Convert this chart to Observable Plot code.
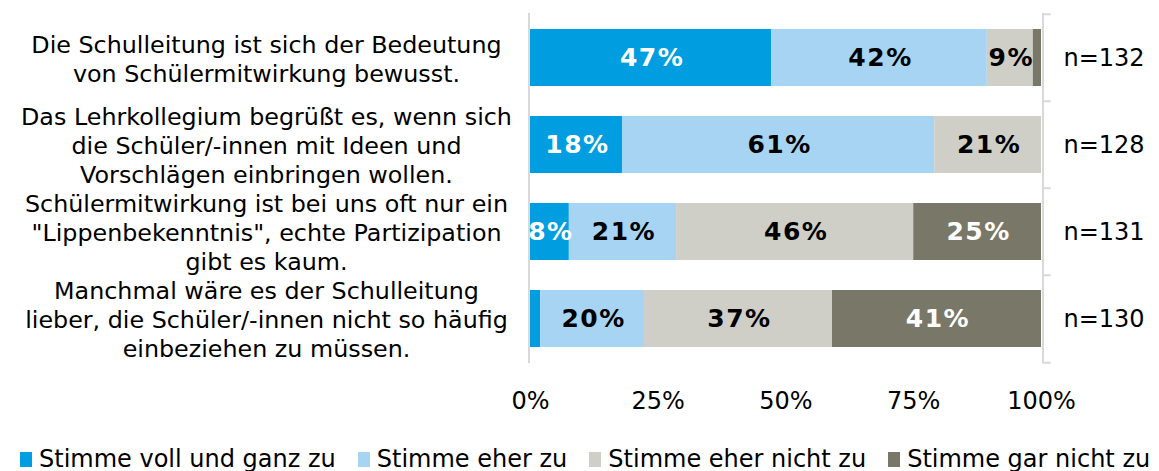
<!DOCTYPE html>
<html>
<head>
<meta charset="utf-8">
<script src="https://cdn.jsdelivr.net/npm/d3@7"></script>
<script src="https://cdn.jsdelivr.net/npm/@observablehq/plot@0.6"></script>
<style>
  html, body { margin: 0; padding: 0; background: #fff; }
  #chart { width: 1159px; }
  .legend { font-family: "DejaVu Sans", Verdana, sans-serif; font-size: 24px; line-height: 24px;
            padding-top: 7px; padding-left: 20px; white-space: nowrap; color: #000; }
  .legend span.item { display: inline-block; margin-right: 22px; }
  .legend span.sw { display: inline-block; width: 12px; height: 15px; margin-right: 7px; }
</style>
</head>
<body>
<div id="chart"></div>
<script>
const questions = [
  "Die Schulleitung ist sich der Bedeutung\nvon Schülermitwirkung bewusst.",
  "Das Lehrkollegium begrüßt es, wenn sich\ndie Schüler/-innen mit Ideen und\nVorschlägen einbringen wollen.",
  "Schülermitwirkung ist bei uns oft nur ein\n\"Lippenbekenntnis\", echte Partizipation\ngibt es kaum.",
  "Manchmal wäre es der Schulleitung\nlieber, die Schüler/-innen nicht so häufig\neinbeziehen zu müssen."
];
const categories = ["Stimme voll und ganz zu", "Stimme eher zu", "Stimme eher nicht zu", "Stimme gar nicht zu"];
const colors = ["#009EE0", "#A8D4F3", "#CFCFC7", "#797767"];
const vollUndGanz = [47.2, 18.0, 7.6, 2.0];
const eherZu = [42.2, 61.1, 21.0, 20.3];
const eherNicht = [9.0, 20.9, 46.4, 36.8];
const garNicht = [1.6, 0, 25.0, 40.9];
const nLabels = ["n=132", "n=128", "n=131", "n=130"];
const xTicks = [0, 25, 50, 75, 100];

const series = [vollUndGanz, eherZu, eherNicht, garNicht];
const rows = questions.flatMap((q, i) => categories.map((c, j) => ({question: q, category: c, value: series[j][i], idx: j})));
const nRows = questions.map((q, i) => ({question: q, n: nLabels[i]}));
const lbl = d => d.value >= 3 ? Math.round(d.value) + "%" : "";
const darkCat = d => d.idx === 0 || d.idx === 3;

const step = (440 - 13 - 77) / questions.length;

const plot = Plot.plot({
  width: 1159,
  height: 440,
  marginLeft: 530,
  marginRight: 118,
  marginTop: 13,
  marginBottom: 77,
  style: {fontFamily: "DejaVu Sans, Verdana, sans-serif", fontSize: "24px", color: "#000", background: "#fff"},
  x: {domain: [0, 100], label: null},
  y: {domain: questions, paddingInner: 0.34, paddingOuter: 0.17, axis: null},
  color: {domain: categories, range: colors},
  marks: [
    Plot.barX(rows, Plot.stackX({x: "value", y: "question", fill: "category", z: "category"})),
    Plot.text(rows, Plot.stackX({x: "value", y: "question", z: "category",
      text: d => darkCat(d) ? lbl(d) : "", fill: "white", fontWeight: "bold", fontSize: 25, dx: 1,
      clip: "frame"})),
    Plot.text(rows, Plot.stackX({x: "value", y: "question", z: "category",
      text: d => darkCat(d) ? "" : lbl(d), fill: "black", fontWeight: "bold", fontSize: 25, dx: 1,
      clip: "frame"})),
    Plot.ruleX([0], {stroke: "#d9d9d9", strokeWidth: 2, dx: -1.5}),
    Plot.ruleX([100], {stroke: "#d9d9d9", strokeWidth: 2, dx: 1.5}),
    Plot.ruleY(questions, {y: d => d, dy: -step / 2, x1: 100, x2: 101.6, dx: 1.5, stroke: "#d9d9d9", strokeWidth: 2}),
    Plot.ruleY(questions.slice(-1), {y: d => d, dy: step / 2, x1: 100, x2: 101.6, dx: 1.5, stroke: "#d9d9d9", strokeWidth: 2}),
    Plot.text(questions, {y: d => d, text: d => d, frameAnchor: "left", dx: -264, textAnchor: "middle", lineHeight: 1.21, fontSize: 23.8, fill: "black"}),
    Plot.text(nRows, {y: "question", text: "n", frameAnchor: "right", dx: 22, textAnchor: "start", fontSize: 24, fill: "black"}),
    Plot.axisX({ticks: xTicks, tickFormat: d => d + "%", tickSize: 0, tickPadding: 28, fontSize: 24, fill: "black", label: null})
  ]
});
plot.querySelectorAll('g[font-weight="bold"]').forEach(g => { g.style.letterSpacing = "1.5px"; });
document.getElementById("chart").appendChild(plot);

const legend = document.createElement("div");
legend.className = "legend";
categories.forEach((c, j) => {
  const item = document.createElement("span");
  item.className = "item";
  const sw = document.createElement("span");
  sw.className = "sw";
  sw.style.background = colors[j];
  item.appendChild(sw);
  item.appendChild(document.createTextNode(c));
  legend.appendChild(item);
});
document.getElementById("chart").appendChild(legend);
</script>
</body>
</html>
